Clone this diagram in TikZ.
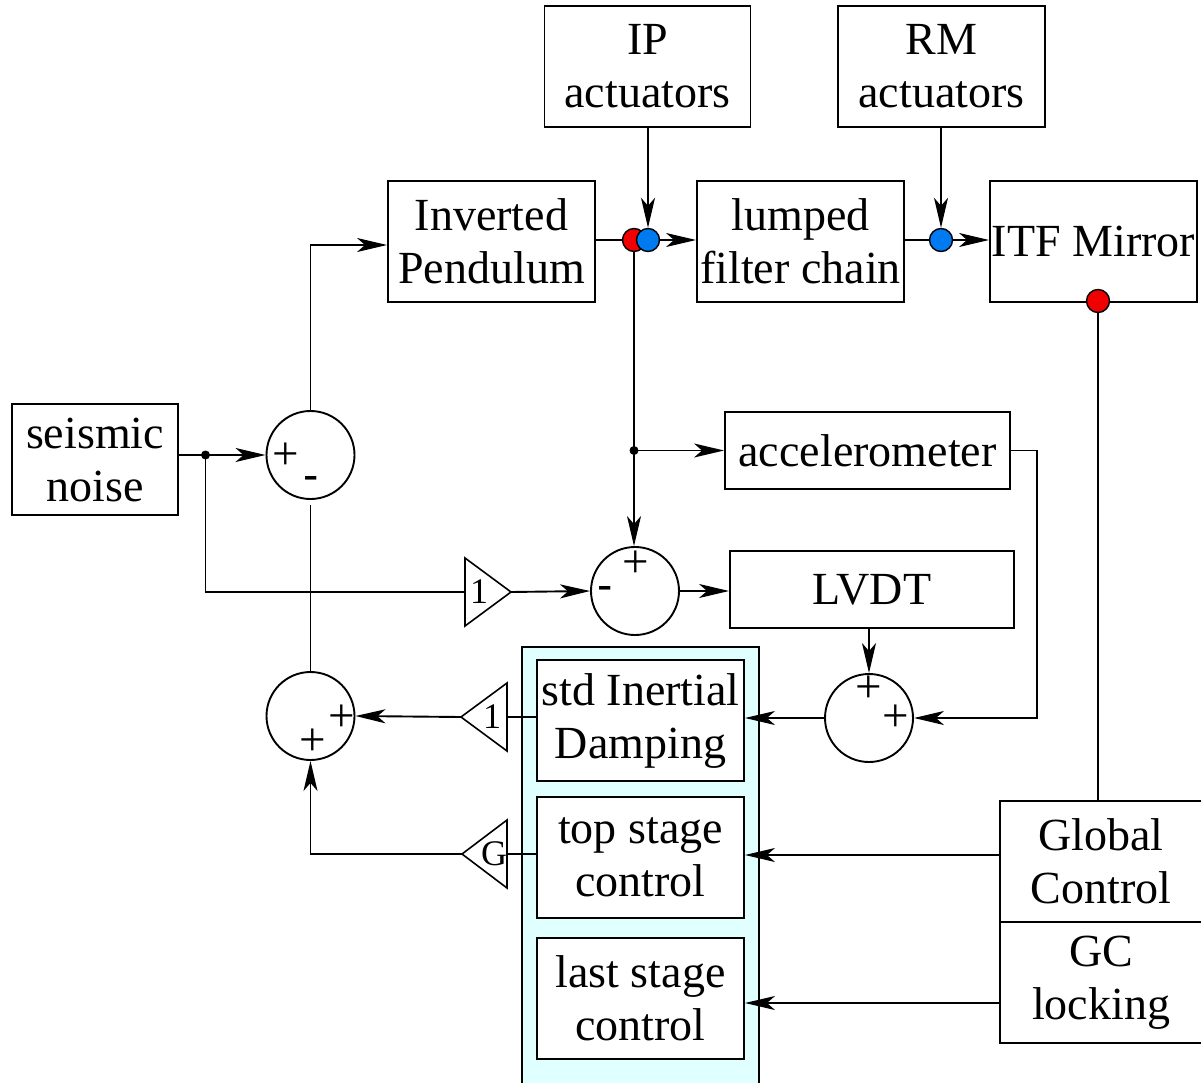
\documentclass[tikz,border=0pt]{standalone}
\usepackage{fontspec}
\setmainfont{Liberation Serif}
\setsansfont{Liberation Sans}
\usetikzlibrary{arrows.meta,calc}
\definecolor{panelc}{RGB}{224,255,255}
\definecolor{dotred}{RGB}{240,0,0}
\definecolor{dotblue}{RGB}{0,122,240}
\begin{document}
\begin{tikzpicture}[x=1pt,y=-1pt,
  box/.style={draw,line width=1.9pt,fill=white,inner sep=0pt,align=center,font=\fontsize{46}{53}\selectfont},
  sumc/.style={draw,circle,line width=1.9pt,minimum size=88pt,inner sep=0pt},
  plus/.style={font=\fontsize{47}{47}\selectfont,inner sep=0pt},
  minus/.style={font=\sffamily\fontsize{46}{46}\selectfont,inner sep=0pt},
  gaintxt/.style={font=\fontsize{36}{36}\selectfont,inner sep=0pt},
  wire/.style={line width=1.9pt},
  arr/.style={wire,-{Stealth[length=30pt,width=14pt,inset=8pt]}},
  reddot/.style={circle,draw,line width=1.4pt,fill=dotred,minimum size=23pt,inner sep=0pt},
  bluedot/.style={circle,draw,line width=1.4pt,fill=dotblue,minimum size=23pt,inner sep=0pt},
  tri/.style={line width=1.6pt,fill=white}
]
\useasboundingbox (0,0) rectangle (1201,1083);

% panel
\fill[panelc] (522,647) rectangle (759,1095);
\draw[line width=1.9pt] (522,1095) -- (522,647) -- (759,647) -- (759,1095);

% boxes
\node[box,minimum width=206pt,minimum height=121pt] (ip) at (647.5,66.5) {IP\\actuators};
\node[box,minimum width=207pt,minimum height=121pt] (rm) at (941.5,66.5) {RM\\actuators};
\node[box,minimum width=207pt,minimum height=121pt] (ipend) at (491.5,241.5) {Inverted\\Pendulum};
\node[box,minimum width=207pt,minimum height=121pt] (lump) at (800.5,241.5) {lumped\\filter chain};
\node[box,minimum width=207pt,minimum height=121pt] (itf) at (1093.5,241.5) {ITF Mirror};
\node[box,minimum width=166pt,minimum height=111pt] (seis) at (95,459.5) {seismic\\noise};
\node[box,minimum width=285pt,minimum height=77pt] (acc) at (867.5,450.5) {accelerometer};
\node[box,minimum width=284pt,minimum height=77pt] (lvdt) at (872,589.5) {LVDT};
\node[box,minimum width=207pt,minimum height=121pt] (std) at (640.5,720.5) {std Inertial\\Damping};
\node[box,minimum width=207pt,minimum height=121pt] (top) at (640.5,857.5) {top stage\\control};
\node[box,minimum width=207pt,minimum height=121pt] (last) at (640.5,998.5) {last stage\\control};
\node[box,minimum width=202pt,minimum height=121pt] (gc) at (1101,861.5) {Global\\Control};
\node[box,minimum width=202pt,minimum height=121pt] (gcl) at (1101,982.5) {GC\\locking};

% summing junctions
\node[sumc] (s1) at (310.5,455) {};
\node[sumc] (s2) at (635,591) {};
\node[sumc] (s3) at (310.5,716) {};
\node[sumc] (s4) at (869,718) {};
\node[plus] (s1p) at (286,456) {+};
\node[minus] (s1m) at (311,483) {-};
\node[plus] (s2p) at (636,564) {+};
\node[minus] (s2m) at (605,593) {-};
\node[plus] (s3p) at (342,718) {+};
\node[plus] (s3q) at (313,742) {+};
\node[plus] (s4p) at (869,689) {+};
\node[plus] (s4q) at (896,718) {+};

% gains
\coordinate (g1base) at (465,592);
\coordinate (g1tip) at (511,592);
\draw[tri] (465,558) -- (g1tip) -- (465,626) -- cycle;
\node[gaintxt] (g1) at (479,592) {1};
\coordinate (g2base) at (507,717);
\coordinate (g2tip) at (461,717);
\draw[tri] (507,683) -- (g2tip) -- (507,751) -- cycle;
\node[gaintxt] (g2) at (492,717) {1};
\coordinate (g3base) at (507,854);
\coordinate (g3tip) at (462,854);
\draw[tri] (507,820) -- (g3tip) -- (507,888) -- cycle;
\node[gaintxt] (g3) at (494,854) {G};

% dots (positions)
\coordinate (rdc) at (634,240);
\coordinate (bdc) at (648,240);
\coordinate (bd2c) at (941,240);
\coordinate (rd2c) at (1098,301);

% wires
\draw[wire] (ipend.east |- rdc) -- (rdc);
\draw[wire] (lump.east |- bd2c) -- (bd2c);
\draw[wire] (rd2c) -- (rd2c |- gc.north);

\node[reddot] (rd) at (rdc) {};
\node[bluedot] (bd) at (bdc) {};
\node[bluedot] (bd2) at (bd2c) {};
\node[reddot] (rd2) at (rd2c) {};

\draw[arr] (ip.south -| bd) -- (bd.north);
\draw[arr] (rm.south -| bd2) -- (bd2.north);
\draw[arr] (bd.east) -- (lump.west |- bd);
\draw[arr] (bd2.east) -- (itf.west |- bd2);

\coordinate (j2) at (rd |- acc.west);
\draw[arr] (rd.south) -- (rd.south |- s2.north);
\draw[arr] (j2) -- (acc.west);
\fill (j2) circle (4.5pt);

\coordinate (j1) at (205.5,455);
\draw[arr] (seis.east |- s1.west) -- (s1.west);
\draw[wire] (j1) |- (g1base);
\fill (j1) circle (4.5pt);
\draw[arr] (g1tip) -- (s2.west);
\draw[arr] (s2.east) -- (lvdt.west |- s2.east);

\draw[arr] (s1.north) |- ([yshift=-3.5pt]ipend.west);
\draw[wire] (s3.north) -- ([yshift=-5pt]s1.south);

\draw[arr] (s4.north |- lvdt.south) -- (s4.north);
\coordinate (acccorner) at (1037,450.5);
\draw[arr] (acc.east) -- (acccorner) |- (s4.east);
\draw[arr] (s4.west) -- (s4.west -| std.east);

\draw[wire] (std.west |- g2base) -- (g2base);
\draw[arr] (g2tip) -- (s3.east);
\draw[wire] (top.west |- g3base) -- (g3base);
\draw[arr] (g3tip) -| (s3.south);

\draw[arr] ([yshift=6.5pt]gc.west) -- ([yshift=6.5pt]gc.west -| top.east);
\draw[arr] ([yshift=-20.5pt]gcl.west) -- ([yshift=-20.5pt]gcl.west -| last.east);
\end{tikzpicture}
\end{document}
